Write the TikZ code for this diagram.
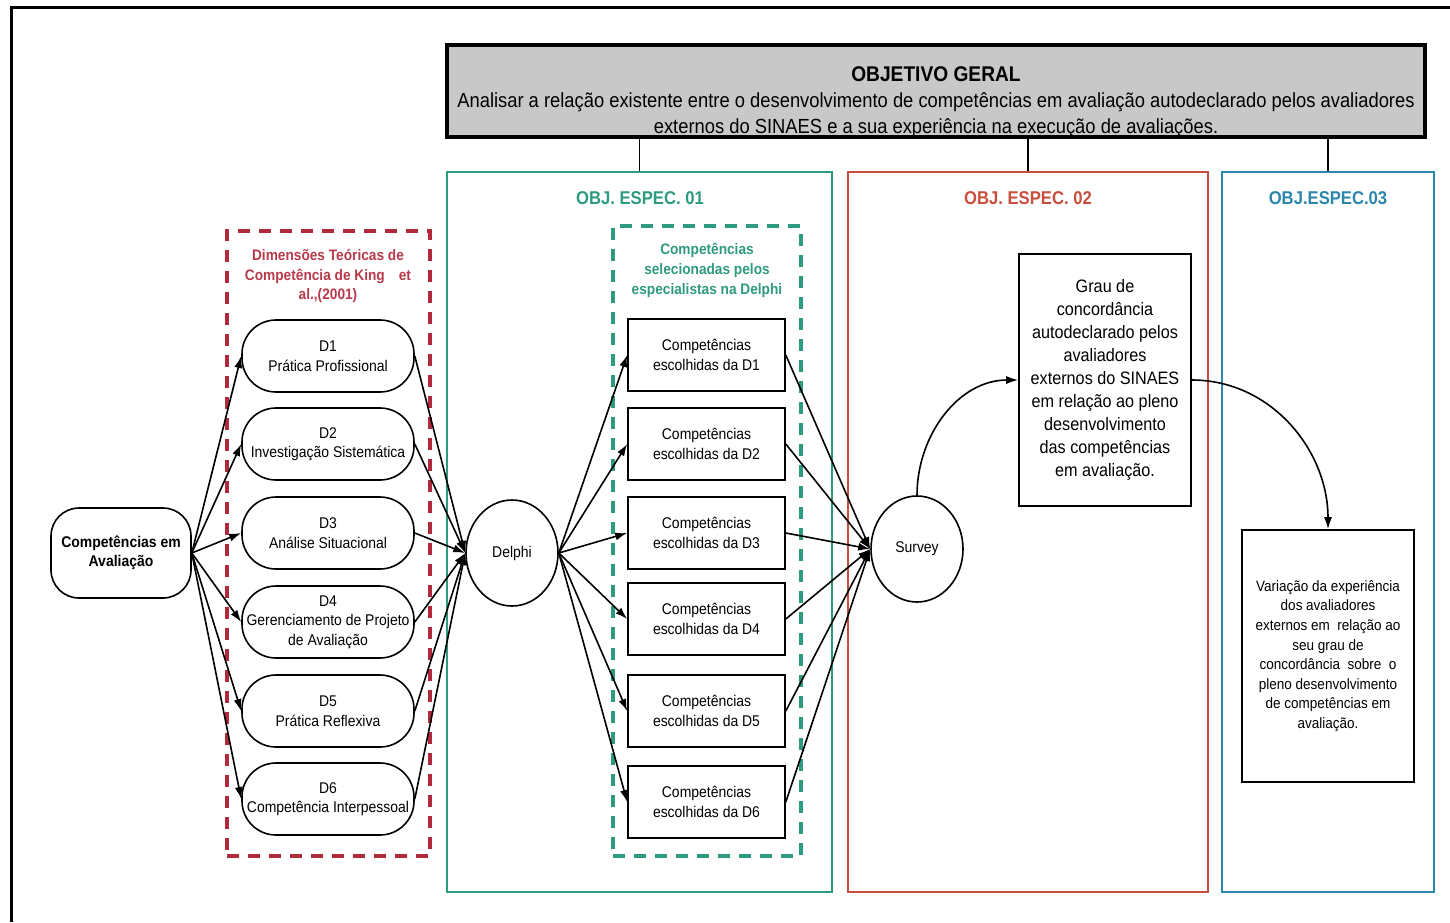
\documentclass[tikz,border=0pt]{standalone}
\usepackage{fontspec}
\setmainfont{Liberation Sans}[FakeStretch=0.9]
\usetikzlibrary{shapes.misc,shapes.geometric,arrows.meta}
\definecolor{gfr}{HTML}{2E9A7F}
\definecolor{rfr}{HTML}{C84E3D}
\definecolor{bfr}{HTML}{2C86AC}
\definecolor{rdash}{HTML}{B02A3C}
\definecolor{rtxt}{HTML}{B8394A}
\definecolor{hdrgray}{HTML}{C8C8C8}
\newcommand\fsz[2]{\fontsize{#1}{#2}\selectfont}
\begin{document}
\begin{tikzpicture}[x=1pt,y=-1pt,
  dbox/.style={rectangle, rounded corners=34pt, draw, line width=1.6pt, minimum width=172pt, minimum height=72pt, inner sep=0pt, align=center, font=\fsz{15.5}{19.5}},
  cbox/.style={rectangle, draw, line width=1.6pt, minimum width=157pt, minimum height=72pt, inner sep=0pt, align=center, font=\fsz{15.5}{19.5}},
  circ/.style={ellipse, draw, line width=1.6pt, minimum width=92pt, minimum height=106pt, inner sep=0pt, font=\fsz{15.5}{19.5}},
  frame/.style={rectangle, draw, line width=2.6pt, inner sep=0pt},
  dframe/.style={rectangle, draw, line width=3.2pt, dash pattern=on 12pt off 9pt, inner sep=0pt},
  ttl/.style={align=center, inner sep=0pt, font=\bfseries\fsz{18.5}{22}},
  conn/.style={line width=1.6pt, -{Latex[length=12pt,width=8pt]}},
  plain/.style={line width=1.4pt}]
\useasboundingbox (0,0) rectangle (1450,922);
\draw[line width=3pt] (11,922) -- (11,7) -- (1450,7);

% header
\node[draw, line width=4pt, fill=hdrgray, minimum width=978pt, minimum height=92pt, inner sep=0pt] (hdr) at (936,91) {};
\node[align=center, inner sep=0pt, font=\fsz{20.4}{26}] (hdrtext) at (936,102)
  {{\bfseries\fontsize{21.3}{26}\selectfont OBJETIVO GERAL}\\
   Analisar a relação existente entre o desenvolvimento de competências em avaliação autodeclarado pelos avaliadores\\
   externos do SINAES e a sua experiência na execução de avaliações.};

% frames
\node[frame, draw=gfr, minimum width=385pt, minimum height=720pt] (fr1) at (639.5,532) {};
\node[frame, draw=rfr, minimum width=360pt, minimum height=720pt] (fr2) at (1028,532) {};
\node[frame, draw=bfr, minimum width=212pt, minimum height=720pt] (fr3) at (1328,532) {};
\draw[plain] (fr1.north) -- (fr1.north |- hdr.south);
\draw[plain] (fr2.north) -- (fr2.north |- hdr.south);
\draw[plain] (fr3.north) -- (fr3.north |- hdr.south);
\node[ttl, text=gfr] (t1) at (640,198) {OBJ. ESPEC. 01};
\node[ttl, text=rfr] (t2) at (1028,198) {OBJ. ESPEC. 02};
\node[ttl, text=bfr] (t3) at (1328,198) {OBJ.ESPEC.03};

% dashed frames
\node[dframe, draw=rdash, minimum width=203pt, minimum height=625pt] (rdf) at (328.5,543.5) {};
\node[align=center, inner sep=0pt, text=rtxt, font=\bfseries\fsz{15.2}{19.5}] (rtitle) at (328,276)
  {Dimensões Teóricas de\\Competência de King\hspace{14pt}et\\al.,(2001)};
\node[dframe, draw=gfr, minimum width=188pt, minimum height=630pt] (gdf) at (707,541) {};
\node[align=center, inner sep=0pt, text=gfr, font=\bfseries\fsz{15.2}{20}] (gtitle) at (707,270)
  {Competências\\selecionadas pelos\\especialistas na Delphi};

% left
\node[draw, line width=1.6pt, rounded corners=28pt, minimum width=140pt, minimum height=90pt, inner sep=0pt, align=center, font=\bfseries\fsz{15.5}{19.5}] (comp) at (121,553) {Competências em\\Avaliação};

\node[dbox] (d1) at (328,356) {D1\\Prática Profissional};
\node[dbox] (d2) at (328,444) {D2\\Investigação Sistemática};
\node[dbox] (d3) at (328,533) {D3\\Análise Situacional};
\node[dbox] (d4) at (328,622) {D4\\Gerenciamento de Projeto\\de Avaliação};
\node[dbox] (d5) at (328,711) {D5\\Prática Reflexiva};
\node[dbox] (d6) at (328,799) {D6\\Competência Interpessoal};

\node[circ] (delphi) at (512,553) {Delphi};

\node[cbox] (c1) at (706.5,355) {Competências\\escolhidas da D1};
\node[cbox] (c2) at (706.5,444) {Competências\\escolhidas da D2};
\node[cbox] (c3) at (706.5,533) {Competências\\escolhidas da D3};
\node[cbox] (c4) at (706.5,619) {Competências\\escolhidas da D4};
\node[cbox] (c5) at (706.5,711) {Competências\\escolhidas da D5};
\node[cbox] (c6) at (706.5,802) {Competências\\escolhidas da D6};

\node[circ] (survey) at (917,549) {Survey};

\node[draw, line width=1.6pt, minimum width=172pt, minimum height=252pt, inner sep=0pt, align=center, font=\fsz{18}{23}] (grau) at (1105,380)
  {Grau de\\concordância\\autodeclarado pelos\\avaliadores\\externos do SINAES\\em relação ao pleno\\desenvolvimento\\das competências\\em avaliação.};

\node[draw, line width=1.6pt, minimum width=172pt, minimum height=252pt, inner sep=0pt, align=center, font=\fsz{15}{19.6}] (var) at (1328,656)
  {Variação da experiência\\dos avaliadores\\externos em\ \ relação ao\\seu grau de\\concordância\ \ sobre\ \ o\\pleno desenvolvimento\\de competências em\\avaliação.};

% connectors
\foreach \d in {d1,d2,d3,d4,d5,d6}{
  \draw[conn] (comp.east) -- (\d.west);
  \draw[conn] (\d.east) -- (delphi.west);
}
\foreach \c in {c1,c2,c3,c4,c5,c6}{
  \draw[conn] (delphi.east) -- (\c.west);
  \draw[conn] (\c.east) -- (survey.west);
}
\draw[conn] (survey.north) to[out=90,in=180] (grau.west);
\draw[conn] (grau.east) to[out=0,in=90] (var.north);
\end{tikzpicture}
\end{document}
